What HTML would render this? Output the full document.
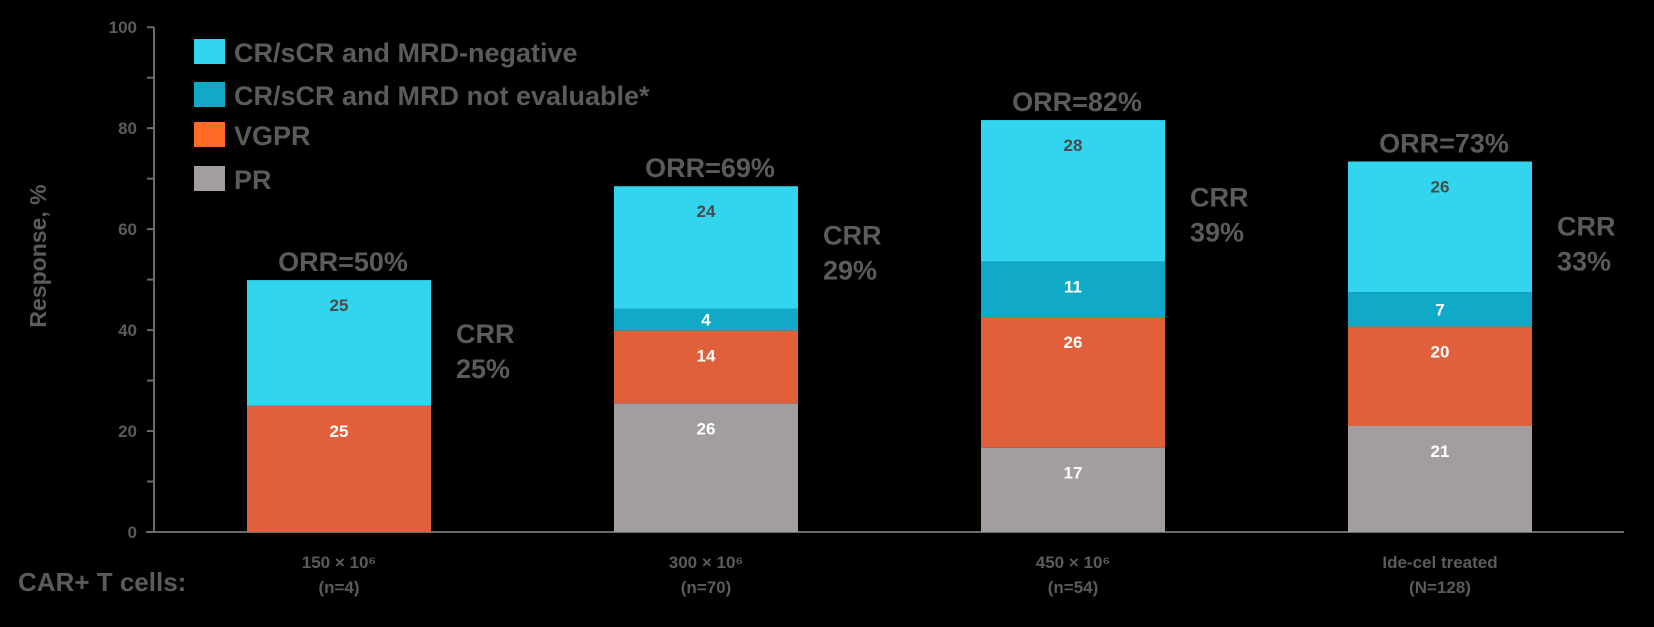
<!DOCTYPE html>
<html><head><meta charset="utf-8"><style>
html,body{margin:0;padding:0;background:#000;}
svg{display:block;}
text{font-family:"Liberation Sans",sans-serif;font-weight:bold;}
</style></head><body>
<svg id="chart" width="1654" height="627" viewBox="0 0 1654 627" xmlns="http://www.w3.org/2000/svg">
<rect width="1654" height="627" fill="#000"/>
</svg>
<script>
const categories = ["150 × 10⁶","300 × 10⁶","450 × 10⁶","Ide-cel treated"];
const catSub = ["(n=4)","(n=70)","(n=54)","(N=128)"];
const prVals = [0, 25.5, 16.7, 21.0];
const vgprVals = [25, 14.4, 25.9, 19.7];
const neVals = [0, 4.3, 11.0, 6.8];
const crVals = [24.9, 24.3, 28.0, 25.9];
const prLabels = ["", "26", "17", "21"];
const vgprLabels = ["25", "14", "26", "20"];
const neLabels = ["", "4", "11", "7"];
const crLabels = ["25", "24", "28", "26"];
const orrLabels = ["ORR=50%","ORR=69%","ORR=82%","ORR=73%"];
const crrLabels = ["25%","29%","39%","33%"];
const crrY = [39.4, 58.9, 66.5, 60.7];
const yTicks = [0,20,40,60,80,100];
const seriesNames = ["CR/sCR and MRD-negative","CR/sCR and MRD not evaluable*","VGPR","PR"];

const svg = document.getElementById('chart');
const NS = "http://www.w3.org/2000/svg";
const X0 = 154, X1 = 1624, Y0 = 532, Y100 = 27.2;
const y = v => Y0 - (Y0 - Y100) * v / 100;
const barX = i => 247 + i * 367;
const BW = 184;
const GRAY = "#5b5b5b";
function mk(tag, attrs, txt){
  const e = document.createElementNS(NS, tag);
  for (const k in attrs) e.setAttribute(k, attrs[k]);
  if (txt !== undefined) e.textContent = txt;
  svg.appendChild(e);
  return e;
}
// axes
let e = mk('line',{x1:X0,y1:Y100,x2:X0,y2:Y0,stroke:"#6b6b6b","stroke-width":2});


e = mk('line',{x1:X0-8,y1:Y0,x2:X1,y2:Y0,stroke:"#6b6b6b","stroke-width":2});


for (let v = 0; v <= 100; v += 10) {
  const t = mk('line',{x1:X0-7,y1:y(v),x2:X0,y2:y(v),stroke:"#6b6b6b","stroke-width":2});
  
  
}
yTicks.forEach(v => {
  const t = mk('text',{x:137,y:y(v)+6,"text-anchor":"end","font-size":17,fill:GRAY},String(v));
  
  
});
e = mk('text',{x:0,y:0,transform:"translate(46,256) rotate(-90)","text-anchor":"middle","font-size":23,fill:GRAY},"Response, %");


e = mk('text',{x:18,y:591,"font-size":26,fill:GRAY},"CAR+ T cells:");



const series = [
  {vals:prVals, labels:prLabels, color:"#a29e9e", tc:"#fff", name:"pr"},
  {vals:vgprVals, labels:vgprLabels, color:"#e0603c", tc:"#fff", name:"vgpr"},
  {vals:neVals, labels:neLabels, color:"#10aac8", tc:"#fff", name:"cr-mrd-ne"},
  {vals:crVals, labels:crLabels, color:"#33d4ee", tc:"#4a4a4a", name:"cr-mrd-neg"}
];
categories.forEach((c, i) => {
  let base = 0;
  const cx = barX(i) + BW/2;
  series.forEach(s => {
    const v = s.vals[i];
    if (v > 0) {
      const top = y(base + v), bot = y(base);
      const r = mk('rect',{x:barX(i),y:top,width:BW,height:bot-top,fill:s.color});
      
      
      if (s.labels[i]) {
        const h = bot - top;
        const ly = h < 50 ? (top + bot)/2 + 6 : top + 31;
        const t = mk('text',{x:cx,y:ly,"text-anchor":"middle","font-size":17,fill:s.tc},s.labels[i]);
        
        
      }
    }
    base += v;
  });
  let t = mk('text',{x:cx+4,y:y(base)-9,"text-anchor":"middle","font-size":27,fill:GRAY},orrLabels[i]);
  
  
  const crx = barX(i) + BW + 25;
  t = mk('text',{x:crx,y:y(crrY[i])+10,"font-size":27,fill:GRAY},"CRR");
  
  
  t = mk('text',{x:crx,y:y(crrY[i])+45,"font-size":27,fill:GRAY},crrLabels[i]);
  
  
  t = mk('text',{x:cx,y:568,"text-anchor":"middle","font-size":17,fill:GRAY},c);
  
  
  t = mk('text',{x:cx,y:593,"text-anchor":"middle","font-size":17,fill:GRAY},catSub[i]);
  
  
});
// legend
const legColors = ["#33d4ee","#10aac8","#ff6a26","#a29e9e"];
const legY = [39, 82, 122, 166];
seriesNames.forEach((n, i) => {
  const r = mk('rect',{x:194,y:legY[i],width:31,height:25,fill:legColors[i]});
  
  
  const t = mk('text',{x:234,y:legY[i]+23,"font-size":27,fill:GRAY},n);
  
  
});
</script>
</body></html>
